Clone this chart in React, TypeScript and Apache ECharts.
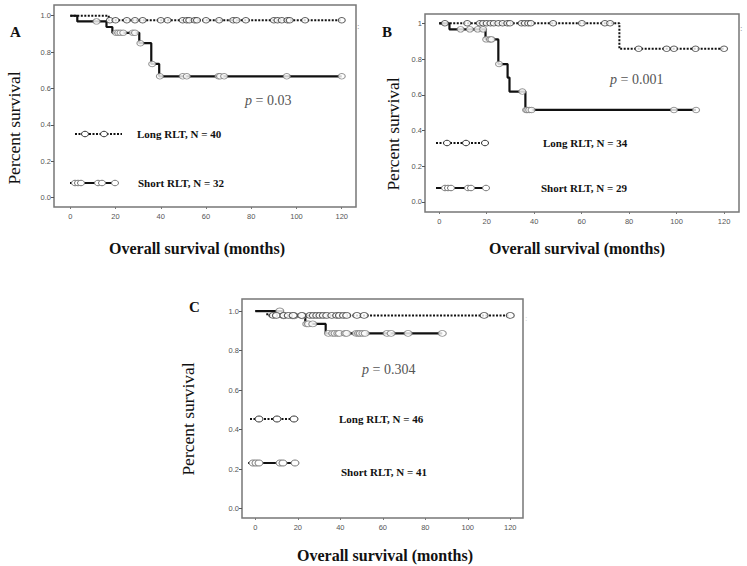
import React, { useEffect, useRef } from "react";
import * as echarts from "echarts";

// ---------- Data ----------
const xTicks = [0, 20, 40, 60, 80, 100, 120];
const yTicks = [0, 0.2, 0.4, 0.6, 0.8, 1.0];

// Panel A
const aLongSteps = [[0, 1], [17, 0.975], [120, 0.975]];
const aLongCensors = [17.5, 20, 25, 28.6, 32, 40, 43, 49.7, 51.5, 52.6, 55, 56, 60, 65.8, 72, 73.5, 77.6, 90, 91.6, 93.5, 96, 97, 103.8, 120];
const aShortSteps = [[0, 1], [3.1, 0.969], [16, 0.938], [18.6, 0.906], [30.5, 0.849], [35.8, 0.735], [39.3, 0.667], [120, 0.667]];
const aShortCensors = [11.6, 20.2, 21.2, 22.2, 23.4, 27.6, 28.6, 31, 36.2, 39.6, 49.7, 51.5, 65.5, 66.2, 68, 95.7, 120];
const aLabels = ["Long RLT, N = 40", "Short RLT, N = 32"];
const aP = "0.03";

// Panel B
const bLongSteps = [[0, 1], [75.9, 0.857], [120, 0.857]];
const bLongCensors = [2.4, 11.8, 17.1, 18.5, 20, 21.6, 23, 24.9, 26.7, 28.7, 29.8, 34.7, 36.1, 37.5, 38.6, 48, 60.1, 69.8, 72, 84, 95.8, 98.9, 108, 120];
const bShortSteps = [[0, 1], [4.3, 0.966], [19.5, 0.91], [24.9, 0.772], [28.8, 0.696], [29.6, 0.618], [36.3, 0.515], [108.2, 0.515]];
const bShortCensors = [9, 12.9, 16.2, 18.5, 19.8, 21.4, 22, 25.2, 35, 36.6, 37.1, 37.9, 38.9, 98.9, 108.2];
const bLabels = ["Long RLT, N = 34", "Short RLT, N = 29"];
const bP = "0.001";

// Panel C
const cLongSteps = [[0, 1], [5.6, 0.978], [120, 0.978]];
const cLongCensors = [8.4, 9.9, 13.4, 15.5, 17.8, 21.8, 25.7, 27.3, 28.9, 30.4, 32, 33.6, 36, 38.3, 39.6, 41.5, 43, 47.8, 51.2, 107.7, 120];
const cShortSteps = [[0, 1], [12.8, 0.976], [23.5, 0.935], [33.1, 0.887], [88, 0.887]];
const cShortCensors = [11.5, 13.3, 17.5, 18.3, 22.2, 24.2, 25, 27, 34.4, 36.4, 37.5, 38.8, 39.6, 42.3, 43, 47.5, 48.6, 49.4, 50.6, 51.7, 62, 63.9, 71.9, 88];
const cLabels = ["Long RLT, N = 46", "Short RLT, N = 41"];
const cP = "0.304";

// ---------- helpers ----------
function survivalAt(steps: number[][], t: number) {
  let s = steps[0][1];
  for (const [x, y] of steps) {
    if (x <= t) s = y;
  }
  return s;
}

const SERIF = "'Liberation Serif', 'DejaVu Serif', serif";
const SANS = "'Liberation Sans', Arial, sans-serif";

type Panel = {
  grid: { left: number; top: number; width: number; height: number };
  xr: [number, number];
  yr: [number, number];
  longSteps: number[][];
  longCens: number[];
  shortSteps: number[][];
  shortCens: number[];
  sym: number[];
  one: string;
};

const panels: Panel[] = [
  { grid: { left: 54, top: 5, width: 302, height: 202 }, xr: [-7.2, 126.3], yr: [-0.051, 1.059], longSteps: aLongSteps, longCens: aLongCensors, shortSteps: aShortSteps, shortCens: aShortCensors, sym: [7, 5.5], one: "1.0" },
  { grid: { left: 425, top: 14, width: 314, height: 198 }, xr: [-6.0, 126.3], yr: [-0.056, 1.052], longSteps: bLongSteps, longCens: bLongCensors, shortSteps: bShortSteps, shortCens: bShortCensors, sym: [7, 5.5], one: "1" },
  { grid: { left: 242, top: 299, width: 281, height: 219 }, xr: [-6.3, 126], yr: [-0.048, 1.061], longSteps: cLongSteps, longCens: cLongCensors, shortSteps: cShortSteps, shortCens: cShortCensors, sym: [8, 6], one: "1.0" },
];

function legendSample(x1: number, x2: number, y: number, dotted: boolean, circles: number[], sym: number[]) {
  const els: any[] = [
    {
      type: "line",
      shape: { x1, y1: y, x2, y2: y },
      style: { stroke: "#111", lineWidth: dotted ? 1.8 : 2, lineDash: dotted ? [2, 1.5] : null },
      z: 10,
    },
  ];
  for (const cx of circles) {
    els.push({
      type: "ellipse",
      shape: { cx, cy: y, rx: sym[0] / 2, ry: sym[1] / 2 },
      style: { fill: "#fff", stroke: dotted ? "#333" : "#777", lineWidth: 1 },
      z: 11,
    });
  }
  return els;
}

function txt(x: number, y: number, text: string, opts: any = {}) {
  return {
    type: "text",
    x,
    y,
    rotation: opts.rotation || 0,
    z: 12,
    style: {
      text,
      fill: opts.fill || "#111",
      font: `${opts.weight || "normal"} ${opts.size || 11}px ${opts.family || SERIF}`,
      textAlign: opts.align || "left",
      textVerticalAlign: "middle",
    },
  };
}

function pText(x: number, y: number, val: string) {
  return {
    type: "text",
    x,
    y,
    z: 12,
    style: {
      text: `{i|p} = ${val}`,
      fill: "#555",
      font: `normal 14px ${SERIF}`,
      textAlign: "left",
      textVerticalAlign: "middle",
      rich: { i: { fontStyle: "italic", fontFamily: SERIF, fontSize: 14, fill: "#555" } },
    },
  };
}

export default function App() {
  const ref = useRef<HTMLDivElement>(null);
  useEffect(() => {
    if (!ref.current) return;
    const chart = echarts.init(ref.current, null, { renderer: "svg" });

    const grid = panels.map((p) => ({
      ...p.grid,
      show: true,
      borderColor: "#777",
      borderWidth: 1.5,
      backgroundColor: "transparent",
      containLabel: false,
    }));

    const xAxis = panels.map((p, i) => ({
      type: "value",
      gridIndex: i,
      position: "bottom",
      min: p.xr[0],
      max: p.xr[1],
      axisLine: { show: false, onZero: false },
      splitLine: { show: false },
      axisTick: { show: true, customValues: xTicks, length: 2, lineStyle: { color: "#777" } },
      axisLabel: { customValues: xTicks, fontSize: 7.5, color: "#555", fontFamily: SANS, margin: 5 },
    }));

    const yAxis = panels.map((p, i) => ({
      type: "value",
      gridIndex: i,
      position: "left",
      min: p.yr[0],
      max: p.yr[1],
      axisLine: { show: false, onZero: false },
      splitLine: { show: false },
      axisTick: { show: true, customValues: yTicks, length: 3, lineStyle: { color: "#555" } },
      axisLabel: {
        customValues: yTicks,
        fontSize: 7.5,
        color: "#555",
        fontFamily: SANS,
        margin: 3,
        formatter: (v: number) => (Math.abs(v - 1) < 1e-9 ? p.one : v.toFixed(1)),
      },
    }));

    const series: any[] = [];
    panels.forEach((p, i) => {
      series.push({
        type: "line",
        xAxisIndex: i,
        yAxisIndex: i,
        step: "end",
        showSymbol: false,
        data: p.shortSteps,
        lineStyle: { color: "#111", width: 2.2 },
        z: 3,
      });
      series.push({
        type: "line",
        xAxisIndex: i,
        yAxisIndex: i,
        step: "end",
        showSymbol: false,
        data: p.longSteps,
        lineStyle: { color: "#111", width: 2, type: [2, 1.5] },
        z: 4,
      });
      series.push({
        type: "scatter",
        xAxisIndex: i,
        yAxisIndex: i,
        symbol: "circle",
        symbolSize: p.sym,
        data: p.shortCens.map((t) => [t, survivalAt(p.shortSteps, t)]),
        itemStyle: { color: "#fff", borderColor: "#777", borderWidth: 1 },
        z: 5,
      });
      series.push({
        type: "scatter",
        xAxisIndex: i,
        yAxisIndex: i,
        symbol: "circle",
        symbolSize: p.sym,
        data: p.longCens.map((t) => [t, survivalAt(p.longSteps, t)]),
        itemStyle: { color: "#fff", borderColor: "#333", borderWidth: 1 },
        z: 6,
      });
    });

    const graphic: any[] = [
      // Panel A
      txt(10, 32, "A", { weight: "bold", size: 15 }),
      txt(14, 128, "Percent survival", { size: 17.5, rotation: Math.PI / 2, align: "center" }),
      txt(197, 248, "Overall survival (months)", { weight: "bold", size: 16, align: "center" }),
      pText(245, 100, aP),
      ...legendSample(75, 122, 134, true, [85, 104], [7, 5.5]),
      ...legendSample(70, 117, 183, false, [75, 78, 81, 98, 102, 115], [7, 5.5]),
      txt(137, 134, aLabels[0], { weight: "bold", size: 11 }),
      txt(138, 183, aLabels[1], { weight: "bold", size: 11 }),
      txt(357, 26, ":", { size: 9, fill: "#888" }),
      // Panel B
      txt(382, 32, "B", { weight: "bold", size: 15 }),
      txt(393, 134, "Percent survival", { size: 17.5, rotation: Math.PI / 2, align: "center" }),
      txt(577, 248, "Overall survival (months)", { weight: "bold", size: 16, align: "center" }),
      pText(610, 79, bP),
      ...legendSample(436, 487, 143, true, [447, 466, 485], [7, 5.5]),
      ...legendSample(436, 488, 188, false, [445, 448, 451, 468, 471, 486], [7, 5.5]),
      txt(543, 143, bLabels[0], { weight: "bold", size: 11 }),
      txt(541, 188, bLabels[1], { weight: "bold", size: 11 }),
      txt(740, 28, ":", { size: 9, fill: "#888" }),
      // Panel C
      txt(189, 307, "C", { weight: "bold", size: 15 }),
      txt(188, 419, "Percent survival", { size: 17.5, rotation: Math.PI / 2, align: "center" }),
      txt(385, 555, "Overall survival (months)", { weight: "bold", size: 16, align: "center" }),
      pText(362, 369, cP),
      ...legendSample(250, 297, 419, true, [259, 277, 294], [8, 6]),
      ...legendSample(248, 299, 463, false, [253, 256, 259, 280, 283, 295], [8, 6]),
      txt(339, 419, cLabels[0], { weight: "bold", size: 11 }),
      txt(341, 472, cLabels[1], { weight: "bold", size: 11 }),
      txt(525, 318, ":", { size: 9, fill: "#ccc" }),
    ];

    chart.setOption({
      animation: false,
      backgroundColor: "#fff",
      grid,
      xAxis,
      yAxis,
      series,
      graphic,
    });
    return () => chart.dispose();
  }, []);

  return (
    <div
      ref={ref}
      style={{ position: "fixed", left: 0, top: 0, width: 747, height: 566, background: "#fff" }}
    />
  );
}
